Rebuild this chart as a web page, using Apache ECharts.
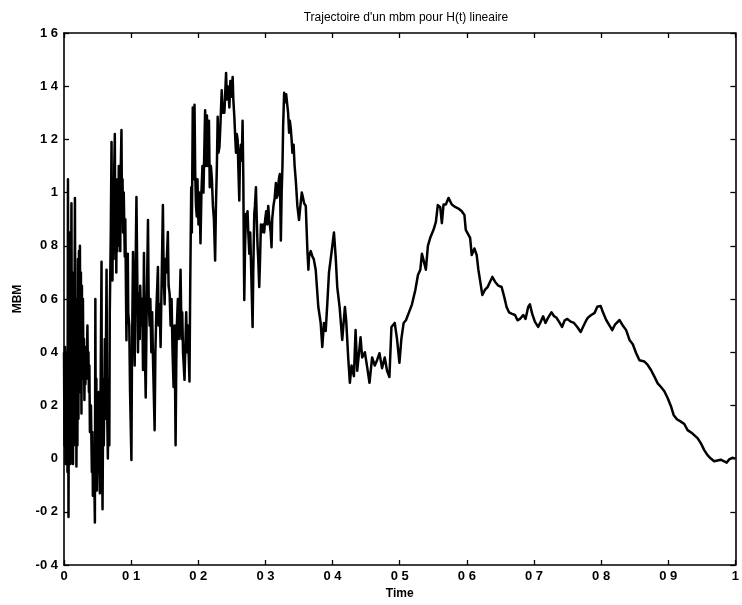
<!DOCTYPE html>
<html>
<head>
<meta charset="utf-8">
<script src="https://cdn.jsdelivr.net/npm/echarts@6/dist/echarts.min.js"></script>
<style>html,body{margin:0;padding:0;background:#fff}#c{width:742px;height:605px}</style>
</head>
<body>
<div id="c"></div>
<script>
var titleText = "Trajectoire d'un mbm pour H(t) lineaire";
var xAxisName = "Time";
var yAxisName = "MBM";
var xTickLabels = ["0","0 1","0 2","0 3","0 4","0 5","0 6","0 7","0 8","0 9","1"];
var yTickLabels = ["-0 4","-0 2","0","0 2","0 4","0 6","0 8","1","1 2","1 4","1 6"];

var timeValues = [
0,0.0007,0.0015,0.0022,0.0030,0.0037,0.0045,0.0052,0.0059,0.0067,0.0074,0.0082,0.0089,0.0096,0.0111,0.0119,0.0126,0.0134,0.0141,0.0148,
0.0163,0.0171,0.0178,0.0185,0.0193,0.0200,0.0208,0.0215,0.0223,0.0230,0.0237,0.0245,0.0252,0.0260,0.0267,0.0274,0.0282,0.0289,0.0297,0.0304,
0.0312,0.0319,0.0326,0.0334,0.0349,0.0356,0.0364,0.0371,0.0378,0.0386,0.0401,0.0415,0.0423,0.0430,0.0445,0.0460,0.0467,0.0475,0.0482,0.0490,
0.0504,0.0512,0.0519,0.0534,0.0549,0.0559,0.0564,0.0574,0.0586,0.0593,0.0608,0.0616,0.0634,0.0642,0.0653,0.0663,0.0675,0.0682,0.0697,0.0708,
0.0715,0.0722,0.0731,0.0739,0.0749,0.0757,0.0764,0.0772,0.0779,0.0786,0.0794,0.0801,0.0809,0.0816,0.0823,0.0831,0.0838,0.0846,0.0856,0.0864,
0.0872,0.0880,0.0890,0.0905,0.0913,0.0930,0.0939,0.0950,0.0957,0.0972,0.0984,0.1004,0.1013,0.1028,0.1039,0.1053,0.1061,0.1079,0.1091,0.1102,
0.1113,0.1128,0.1135,0.1150,0.1165,0.1177,0.1191,0.1202,0.1217,0.1231,0.1251,0.1261,0.1276,0.1286,0.1301,0.1313,0.1325,0.1350,0.1361,0.1375,
0.1399,0.1409,0.1424,0.1439,0.1450,0.1473,0.1484,0.1499,0.1510,0.1524,0.1547,0.1558,0.1573,0.1588,0.1602,0.1617,0.1632,0.1647,0.1662,0.1672,
0.1681,0.1696,0.1711,0.1736,0.1751,0.1761,0.1773,0.1795,0.1820,0.1832,0.1844,0.1869,0.1880,0.1895,0.1904,0.1918,0.1929,0.1944,0.1954,0.1966,
0.1978,0.1988,0.2003,0.2018,0.2033,0.2047,0.2062,0.2077,0.2102,0.2114,0.2129,0.2144,0.2159,0.2171,0.2188,0.2203,0.2218,0.2233,0.2251,0.2263,
0.2277,0.2289,0.2300,0.2315,0.2329,0.2349,0.2364,0.2374,0.2389,0.2414,0.2426,0.2438,0.2448,0.2463,0.2478,0.2493,0.2512,0.2522,0.2537,0.2552,
0.2562,0.2574,0.2586,0.2596,0.2611,0.2622,0.2634,0.2648,0.2660,0.2671,0.2678,0.2685,0.2697,0.2711,0.2723,0.2734,0.2745,0.2760,0.2774,0.2789,
0.2809,0.2819,0.2834,0.2844,0.2859,0.2871,0.2883,0.2893,0.2908,0.2920,0.2933,0.2945,0.2957,0.2967,0.2982,0.2997,0.3012,0.3027,0.3042,0.3056,
0.3079,0.3091,0.3101,0.3120,0.3138,0.3156,0.3168,0.3182,0.3200,0.3215,0.3230,0.3242,0.3254,0.3264,0.3279,0.3294,0.3309,0.3328,0.3338,0.3353,
0.3364,0.3378,0.3390,0.3402,0.3420,0.3435,0.3452,0.3476,0.3501,0.3521,0.3542,0.3561,0.3576,0.3601,0.3625,0.3640,0.3650,0.3675,0.3699,0.3720,
0.3749,0.3788,0.3823,0.3847,0.3872,0.3898,0.3921,0.3947,0.3987,0.4021,0.4046,0.4070,0.4105,0.4144,0.4184,0.4203,0.4233,0.4258,0.4283,0.4318,
0.4343,0.4367,0.4417,0.4441,0.4481,0.4515,0.4550,0.4589,0.4629,0.4663,0.4699,0.4737,0.4777,0.4812,0.4847,0.4877,0.4926,0.4960,0.4996,0.5025,
0.5059,0.5093,0.5134,0.5183,0.5233,0.5272,0.5307,0.5331,0.5356,0.5390,0.5420,0.5455,0.5504,0.5539,0.5568,0.5604,0.5628,0.5653,0.5687,0.5727,
0.5776,0.5826,0.5875,0.5924,0.5964,0.5984,0.6013,0.6049,0.6073,0.6113,0.6147,0.6172,0.6197,0.6231,0.6271,0.6310,0.6346,0.6380,0.6420,0.6469,
0.6518,0.6558,0.6592,0.6628,0.6666,0.6717,0.6755,0.6791,0.6840,0.6874,0.6914,0.6939,0.6973,0.7013,0.7062,0.7102,0.7136,0.7171,0.7211,0.7260,
0.7300,0.7334,0.7384,0.7418,0.7458,0.7497,0.7547,0.7596,0.7645,0.7696,0.7730,0.7779,0.7804,0.7853,0.7904,0.7943,0.7993,0.8027,0.8076,0.8126,
0.8165,0.8210,0.8275,0.8323,0.8373,0.8423,0.8472,0.8521,0.8571,0.8645,0.8694,0.8743,0.8794,0.8843,0.8892,0.8942,0.8991,0.9040,0.9080,0.9129,
0.9188,0.9239,0.9288,0.9362,0.9436,0.9485,0.9536,0.9585,0.9634,0.9684,0.9733,0.9782,0.9832,0.9871,0.9907,0.9955,1.0
];

var mbmValues = [
0.40,0.05,0.42,-0.02,0.30,0.02,0.40,-0.05,1.05,-0.22,0.40,0.00,0.85,-0.02,0.96,0.10,0.45,-0.02,0.70,0.05,
0.98,0.20,0.60,-0.03,0.50,0.05,0.75,0.15,0.78,0.25,0.80,0.30,0.70,0.17,0.65,0.30,0.60,0.35,0.45,0.22,
0.42,0.28,0.40,0.30,0.50,0.32,0.40,0.25,0.35,0.10,0.20,-0.05,0.10,-0.14,0.05,-0.24,0.60,-0.10,0.30,-0.12,
0.20,-0.05,0.25,-0.13,0.40,0.74,0.10,-0.19,0.30,0.05,0.45,0.15,0.71,0.20,0.00,0.30,0.05,0.55,0.85,1.19,
0.80,0.67,1.00,0.75,1.10,1.22,0.80,1.05,0.70,0.95,0.78,1.05,0.80,1.10,0.85,1.00,0.78,1.10,1.235,0.90,
1.05,0.85,1.00,0.76,0.90,0.445,0.70,0.77,0.55,0.50,0.25,-0.005,0.40,0.777,0.55,0.35,0.60,0.983,0.70,0.40,
0.62,0.45,0.65,0.50,0.60,0.333,0.773,0.45,0.23,0.55,0.897,0.60,0.50,0.60,0.40,0.55,0.38,0.107,0.40,0.55,
0.72,0.50,0.58,0.42,0.60,0.953,0.70,0.58,0.75,0.70,0.852,0.65,0.62,0.50,0.60,0.40,0.269,0.50,0.05,0.35,
0.50,0.60,0.45,0.71,0.45,0.55,0.40,0.296,0.55,0.40,0.50,0.29,0.65,1.02,0.85,1.32,1.05,1.33,1.08,0.95,
0.91,1.05,0.88,1.00,0.81,1.00,1.10,1.00,1.31,1.10,1.29,1.10,1.27,1.02,1.10,1.05,0.95,0.90,0.745,0.95,
1.10,1.285,1.15,1.17,1.25,1.385,1.30,1.33,1.30,1.45,1.35,1.40,1.38,1.32,1.42,1.36,1.435,1.35,1.285,1.20,
1.15,1.22,1.20,1.10,0.97,1.15,1.18,1.12,1.27,1.05,0.80,0.596,0.80,0.92,0.90,0.93,0.85,0.77,0.85,0.70,
0.495,0.70,0.92,0.95,1.02,0.90,0.80,0.75,0.645,0.75,0.88,0.85,0.86,0.88,0.85,0.90,0.93,0.88,0.95,0.90,
0.85,0.795,0.90,0.95,0.98,1.036,0.98,0.99,1.05,1.07,0.82,1.00,1.10,1.25,1.375,1.34,1.37,1.37,1.30,1.225,
1.27,1.24,1.20,1.15,1.18,1.10,1.047,0.95,0.897,0.95,1.00,0.98,0.96,0.95,0.784,0.71,0.76,0.78,0.76,0.75,
0.71,0.57,0.51,0.42,0.51,0.48,0.58,0.70,0.78,0.85,0.76,0.645,0.57,0.446,0.57,0.52,0.38,0.285,0.35,0.31,
0.483,0.33,0.456,0.38,0.40,0.345,0.285,0.38,0.35,0.37,0.396,0.34,0.38,0.33,0.307,0.495,0.51,0.45,0.36,0.45,
0.51,0.52,0.547,0.58,0.634,0.69,0.71,0.77,0.745,0.71,0.80,0.83,0.86,0.89,0.953,0.945,0.885,0.955,0.955,0.98,
0.955,0.946,0.94,0.93,0.916,0.86,0.86,0.83,0.765,0.79,0.765,0.71,0.67,0.615,0.635,0.645,0.665,0.683,0.665,0.65,
0.645,0.607,0.57,0.55,0.545,0.54,0.52,0.525,0.54,0.525,0.57,0.58,0.545,0.515,0.495,0.515,0.535,0.51,0.53,0.55,
0.535,0.53,0.51,0.495,0.52,0.525,0.515,0.51,0.495,0.476,0.495,0.52,0.53,0.54,0.548,0.571,0.574,0.55,0.521,0.50,
0.483,0.505,0.521,0.50,0.483,0.446,0.43,0.397,0.37,0.365,0.352,0.333,0.308,0.283,0.269,0.253,0.228,0.197,0.164,0.148,
0.139,0.13,0.107,0.094,0.077,0.058,0.032,0.013,0.0,-0.01,-0.007,-0.004,-0.01,-0.015,-0.003,0.003,0.0
];

var seriesData = [];
var n = Math.min(timeValues.length, mbmValues.length);
for (var i = 0; i < n; i++) seriesData.push([timeValues[i], mbmValues[i]]);

var FONT = 'Liberation Sans, Arial, Helvetica, sans-serif';
var axisLineStyle = { color: '#000', width: 1.6 };
var chart = echarts.init(document.getElementById('c'), null, { renderer: 'canvas' });
var tick = { show: true, inside: true, length: 5, lineStyle: { color: '#000', width: 1.3 } };
chart.setOption({
  animation: false,
  backgroundColor: '#fff',
  title: {
    text: titleText, left: 401, top: 7, textAlign: 'center',
    textStyle: { fontFamily: FONT, fontSize: 12, fontWeight: 'normal', color: '#000' }
  },
  grid: { left: 64, right: 4, top: 33, bottom: 40, containLabel: false },
  xAxis: [{
    type: 'value', min: 0, max: 1, interval: 0.1, position: 'bottom',
    name: xAxisName, nameLocation: 'middle', nameGap: 22,
    nameTextStyle: { fontFamily: FONT, fontSize: 12, fontWeight: 'bold', color: '#000' },
    axisLine: { show: true, onZero: false, lineStyle: axisLineStyle },
    axisTick: tick,
    splitLine: { show: false },
    axisLabel: {
      fontFamily: FONT, fontSize: 13, fontWeight: 'bold', color: '#000', margin: 5,
      formatter: function (v) { return xTickLabels[Math.round(v * 10)]; }
    }
  }, {
    type: 'value', min: 0, max: 1, interval: 0.1, position: 'top',
    axisLine: { show: true, onZero: false, lineStyle: axisLineStyle },
    axisTick: tick, axisLabel: { show: false }, splitLine: { show: false }
  }],
  yAxis: [{
    type: 'value', min: -0.4, max: 1.6, interval: 0.2, position: 'left',
    name: yAxisName, nameLocation: 'middle', nameGap: 40, nameRotate: 90,
    nameTextStyle: { fontFamily: FONT, fontSize: 12, fontWeight: 'bold', color: '#000' },
    axisLine: { show: true, onZero: false, lineStyle: axisLineStyle },
    axisTick: tick,
    splitLine: { show: false },
    axisLabel: {
      fontFamily: FONT, fontSize: 13, fontWeight: 'bold', color: '#000', margin: 6,
      formatter: function (v) { return yTickLabels[Math.round((v + 0.4) / 0.2)]; }
    }
  }, {
    type: 'value', min: -0.4, max: 1.6, interval: 0.2, position: 'right',
    axisLine: { show: true, onZero: false, lineStyle: axisLineStyle },
    axisTick: tick, axisLabel: { show: false }, splitLine: { show: false }
  }],
  series: [{
    type: 'line', xAxisIndex: 0, yAxisIndex: 0,
    data: seriesData, showSymbol: false, symbol: 'none',
    lineStyle: { color: '#000', width: 2.5, join: 'round' },
    clip: true
  }]
});
</script>
</body>
</html>
